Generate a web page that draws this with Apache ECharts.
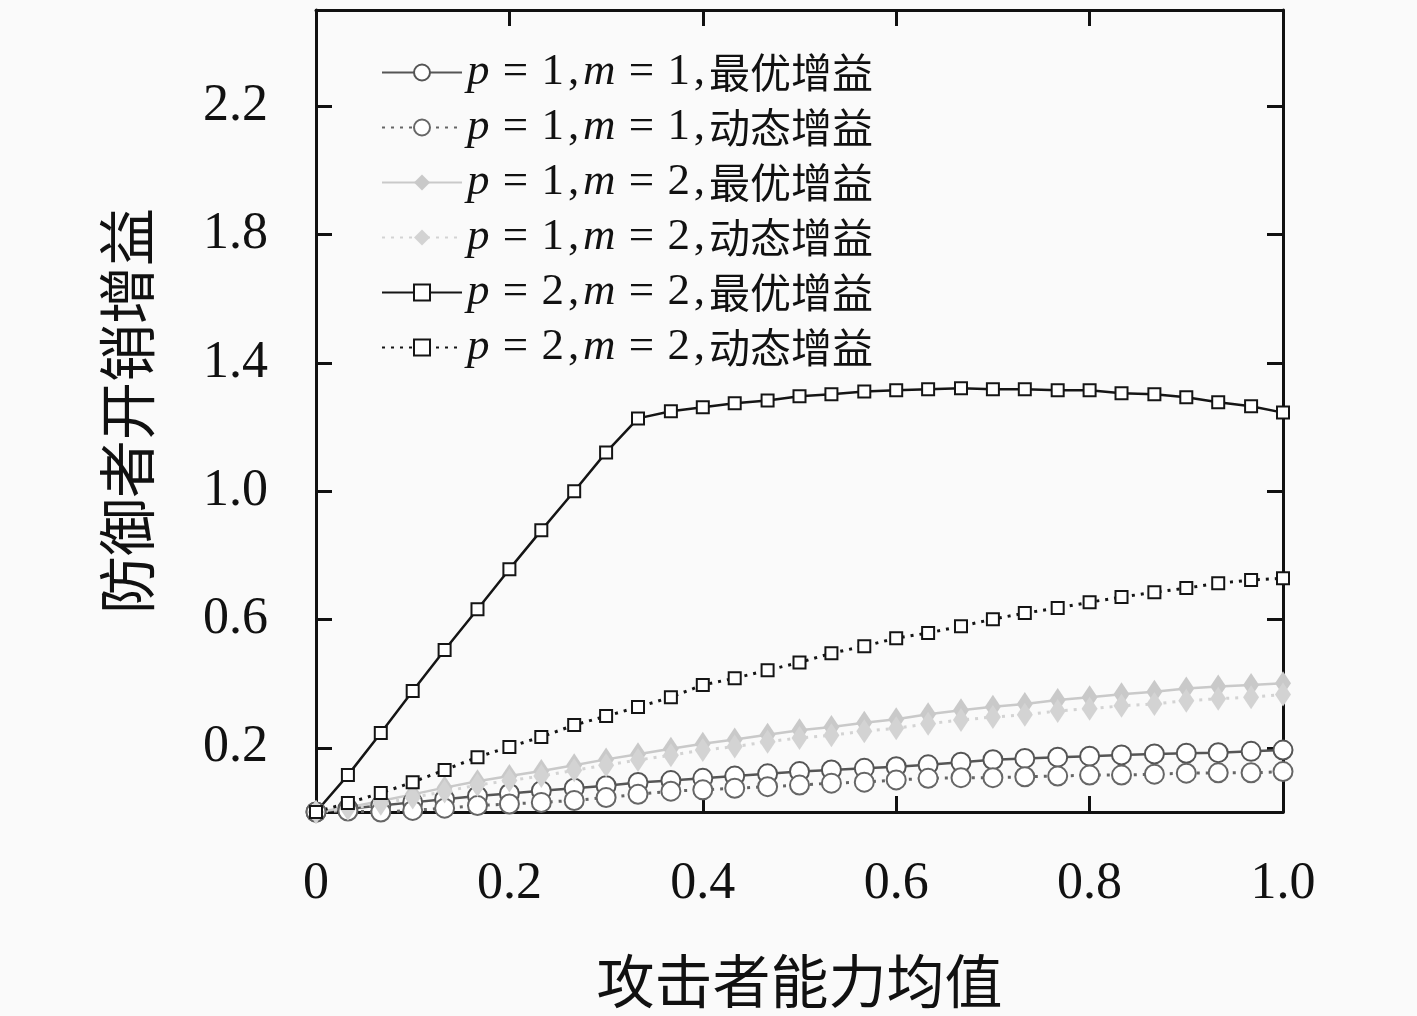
<!DOCTYPE html>
<html>
<head>
<meta charset="utf-8">
<script src="https://cdn.jsdelivr.net/npm/echarts@6/dist/echarts.min.js"></script>
<style>
  html, body { margin: 0; padding: 0; background: #fafafa; }
  #main { width: 1417px; height: 1016px; }
</style>
</head>
<body>
<div id="main"></div>
<script>
// attacker ability mean (x values)
var xs = [0, 0.033, 0.067, 0.1, 0.133, 0.167, 0.2, 0.233, 0.267, 0.3, 0.333, 0.367, 0.4, 0.433, 0.467, 0.5,
          0.533, 0.567, 0.6, 0.633, 0.667, 0.7, 0.733, 0.767, 0.8, 0.833, 0.867, 0.9, 0.933, 0.967, 1];

var p1m1Opt = [0, 0.01, 0.02, 0.03, 0.04, 0.05, 0.058, 0.066, 0.074, 0.082, 0.092, 0.098, 0.105, 0.112, 0.119, 0.126,
               0.131, 0.136, 0.141, 0.147, 0.155, 0.163, 0.167, 0.171, 0.174, 0.178, 0.181, 0.183, 0.185, 0.189, 0.193];
var p1m1Dyn = [0, 0.003, 0, 0.005, 0.012, 0.02, 0.025, 0.03, 0.036, 0.045, 0.055, 0.065, 0.069, 0.074, 0.079, 0.084,
               0.09, 0.093, 0.1, 0.105, 0.107, 0.107, 0.11, 0.112, 0.115, 0.115, 0.118, 0.121, 0.122, 0.122, 0.126];
var p1m2Opt = [0, 0.014, 0.034, 0.055, 0.076, 0.096, 0.112, 0.128, 0.146, 0.164, 0.18, 0.197, 0.213, 0.226, 0.241, 0.255,
               0.265, 0.278, 0.289, 0.305, 0.317, 0.328, 0.337, 0.349, 0.358, 0.367, 0.375, 0.385, 0.391, 0.396, 0.401];
var p1m2Dyn = [0, 0.01, 0.026, 0.045, 0.064, 0.084, 0.098, 0.112, 0.13, 0.146, 0.162, 0.177, 0.193, 0.204, 0.219, 0.231,
               0.239, 0.252, 0.261, 0.275, 0.287, 0.296, 0.303, 0.315, 0.322, 0.331, 0.337, 0.347, 0.353, 0.358, 0.366];
var p2m2Opt = [0, 0.115, 0.246, 0.377, 0.505, 0.632, 0.757, 0.878, 1.0, 1.121, 1.227, 1.249, 1.262, 1.274, 1.283, 1.296,
               1.302, 1.311, 1.315, 1.318, 1.321, 1.318, 1.318, 1.315, 1.315, 1.305, 1.302, 1.293, 1.277, 1.265, 1.245];
var p2m2Dyn = [0, 0.028, 0.059, 0.093, 0.131, 0.171, 0.203, 0.234, 0.271, 0.299, 0.327, 0.358, 0.396, 0.417, 0.442, 0.466,
               0.495, 0.517, 0.542, 0.558, 0.579, 0.601, 0.62, 0.636, 0.654, 0.67, 0.685, 0.698, 0.713, 0.723, 0.729];

var names = ['p=1,m=1,最优增益', 'p=1,m=1,动态增益', 'p=1,m=2,最优增益',
             'p=1,m=2,动态增益', 'p=2,m=2,最优增益', 'p=2,m=2,动态增益'];
var yTicks = [0.2, 0.6, 1.0, 1.4, 1.8, 2.2];

var serif = "'Liberation Serif', 'DejaVu Serif', 'Noto Sans CJK SC', serif";
var cjk = "'Noto Sans CJK SC', sans-serif";

function pairs(ys) {
  var out = [];
  for (var i = 0; i < xs.length; i++) out.push([xs[i], ys[i]]);
  return out;
}

function mk(name, ys, color, dotted, symbol, size, filled) {
  return {
    name: name,
    type: 'line',
    data: pairs(ys),
    symbol: symbol,
    symbolSize: size,
    showAllSymbol: true,
    lineStyle: { color: color, width: dotted ? 3 : 2.5, type: dotted ? [3, 6] : 'solid' },
    itemStyle: filled ? { color: color } : { color: color, borderColor: color, borderWidth: 3 },
    emphasis: { disabled: true }
  };
}

var myChart = echarts.init(document.getElementById('main'));

var option = {
  backgroundColor: '#fafafa',
  animation: false,
  grid: { left: 316, right: 134, top: 10, bottom: 204 },
  legend: {
    orient: 'vertical',
    left: 376,
    top: 45,
    itemWidth: 80,
    itemHeight: 20,
    itemGap: 10,
    data: names,
    formatter: function (name) {
      return name.replace(/([pm])=/g, '{i|$1}{e|=}').replace(/(\d)/g, '{d|$1}').replace(/,/g, '{c|,}');
    },
    textStyle: {
      fontSize: 41,
      fontFamily: cjk,
      color: '#111',
      lineHeight: 45,
      rich: {
        i: { fontStyle: 'italic', fontFamily: serif, fontSize: 45, lineHeight: 45, color: '#111' },
        d: { fontFamily: serif, fontSize: 45, lineHeight: 45, color: '#111' },
        e: { fontFamily: serif, fontSize: 45, lineHeight: 45, color: '#111', width: 52, align: 'center' },
        c: { fontFamily: serif, fontSize: 45, lineHeight: 45, color: '#111', width: 19 }
      }
    }
  },
  xAxis: [{
    type: 'value',
    min: 0, max: 1, interval: 0.2,
    name: '攻击者能力均值',
    nameLocation: 'middle',
    nameGap: 140,
    nameTextStyle: { fontSize: 58, fontFamily: cjk, color: '#111' },
    axisLine: { onZero: false, lineStyle: { color: '#111', width: 3 } },
    axisTick: { inside: true, length: 16, lineStyle: { color: '#111', width: 3 } },
    axisLabel: {
      margin: 46, fontSize: 52, fontFamily: serif, color: '#111',
      formatter: function (v) { return v === 0 ? '0' : v.toFixed(1); }
    },
    splitLine: { show: false }
  }, {
    type: 'value',
    position: 'top',
    min: 0, max: 1, interval: 0.2,
    axisLine: { show: true, onZero: false, lineStyle: { color: '#111', width: 3 } },
    axisTick: { inside: true, length: 16, lineStyle: { color: '#111', width: 3 } },
    axisLabel: { show: false },
    splitLine: { show: false }
  }],
  yAxis: [{
    type: 'value',
    min: 0, max: 2.5,
    name: '防御者开销增益',
    nameLocation: 'middle',
    nameRotate: 90,
    nameGap: 160,
    nameTextStyle: { fontSize: 58, fontFamily: cjk, color: '#111' },
    axisLine: { show: true, onZero: false, lineStyle: { color: '#111', width: 3 } },
    axisTick: { inside: true, length: 16, customValues: yTicks, lineStyle: { color: '#111', width: 3 } },
    axisLabel: {
      margin: 48, fontSize: 52, fontFamily: serif, color: '#111', customValues: yTicks,
      formatter: function (v) { return v.toFixed(1); }
    },
    splitLine: { show: false }
  }, {
    type: 'value',
    position: 'right',
    min: 0, max: 2.5,
    axisLine: { show: true, onZero: false, lineStyle: { color: '#111', width: 3 } },
    axisTick: { inside: true, length: 16, customValues: yTicks, lineStyle: { color: '#111', width: 3 } },
    axisLabel: { show: false, customValues: yTicks },
    splitLine: { show: false }
  }],
  series: [
    mk(names[0], p1m1Opt, '#555555', false, 'emptyCircle', 19, false),
    mk(names[1], p1m1Dyn, '#666666', true, 'emptyCircle', 19, false),
    mk(names[2], p1m2Opt, '#c9c9c9', false, 'diamond', [16, 24], true),
    mk(names[3], p1m2Dyn, '#d3d3d3', true, 'diamond', [16, 24], true),
    mk(names[4], p2m2Opt, '#151515', false, 'emptyRect', 12, false),
    mk(names[5], p2m2Dyn, '#151515', true, 'emptyRect', 12, false)
  ]
};

myChart.setOption(option);
</script>
</body>
</html>
